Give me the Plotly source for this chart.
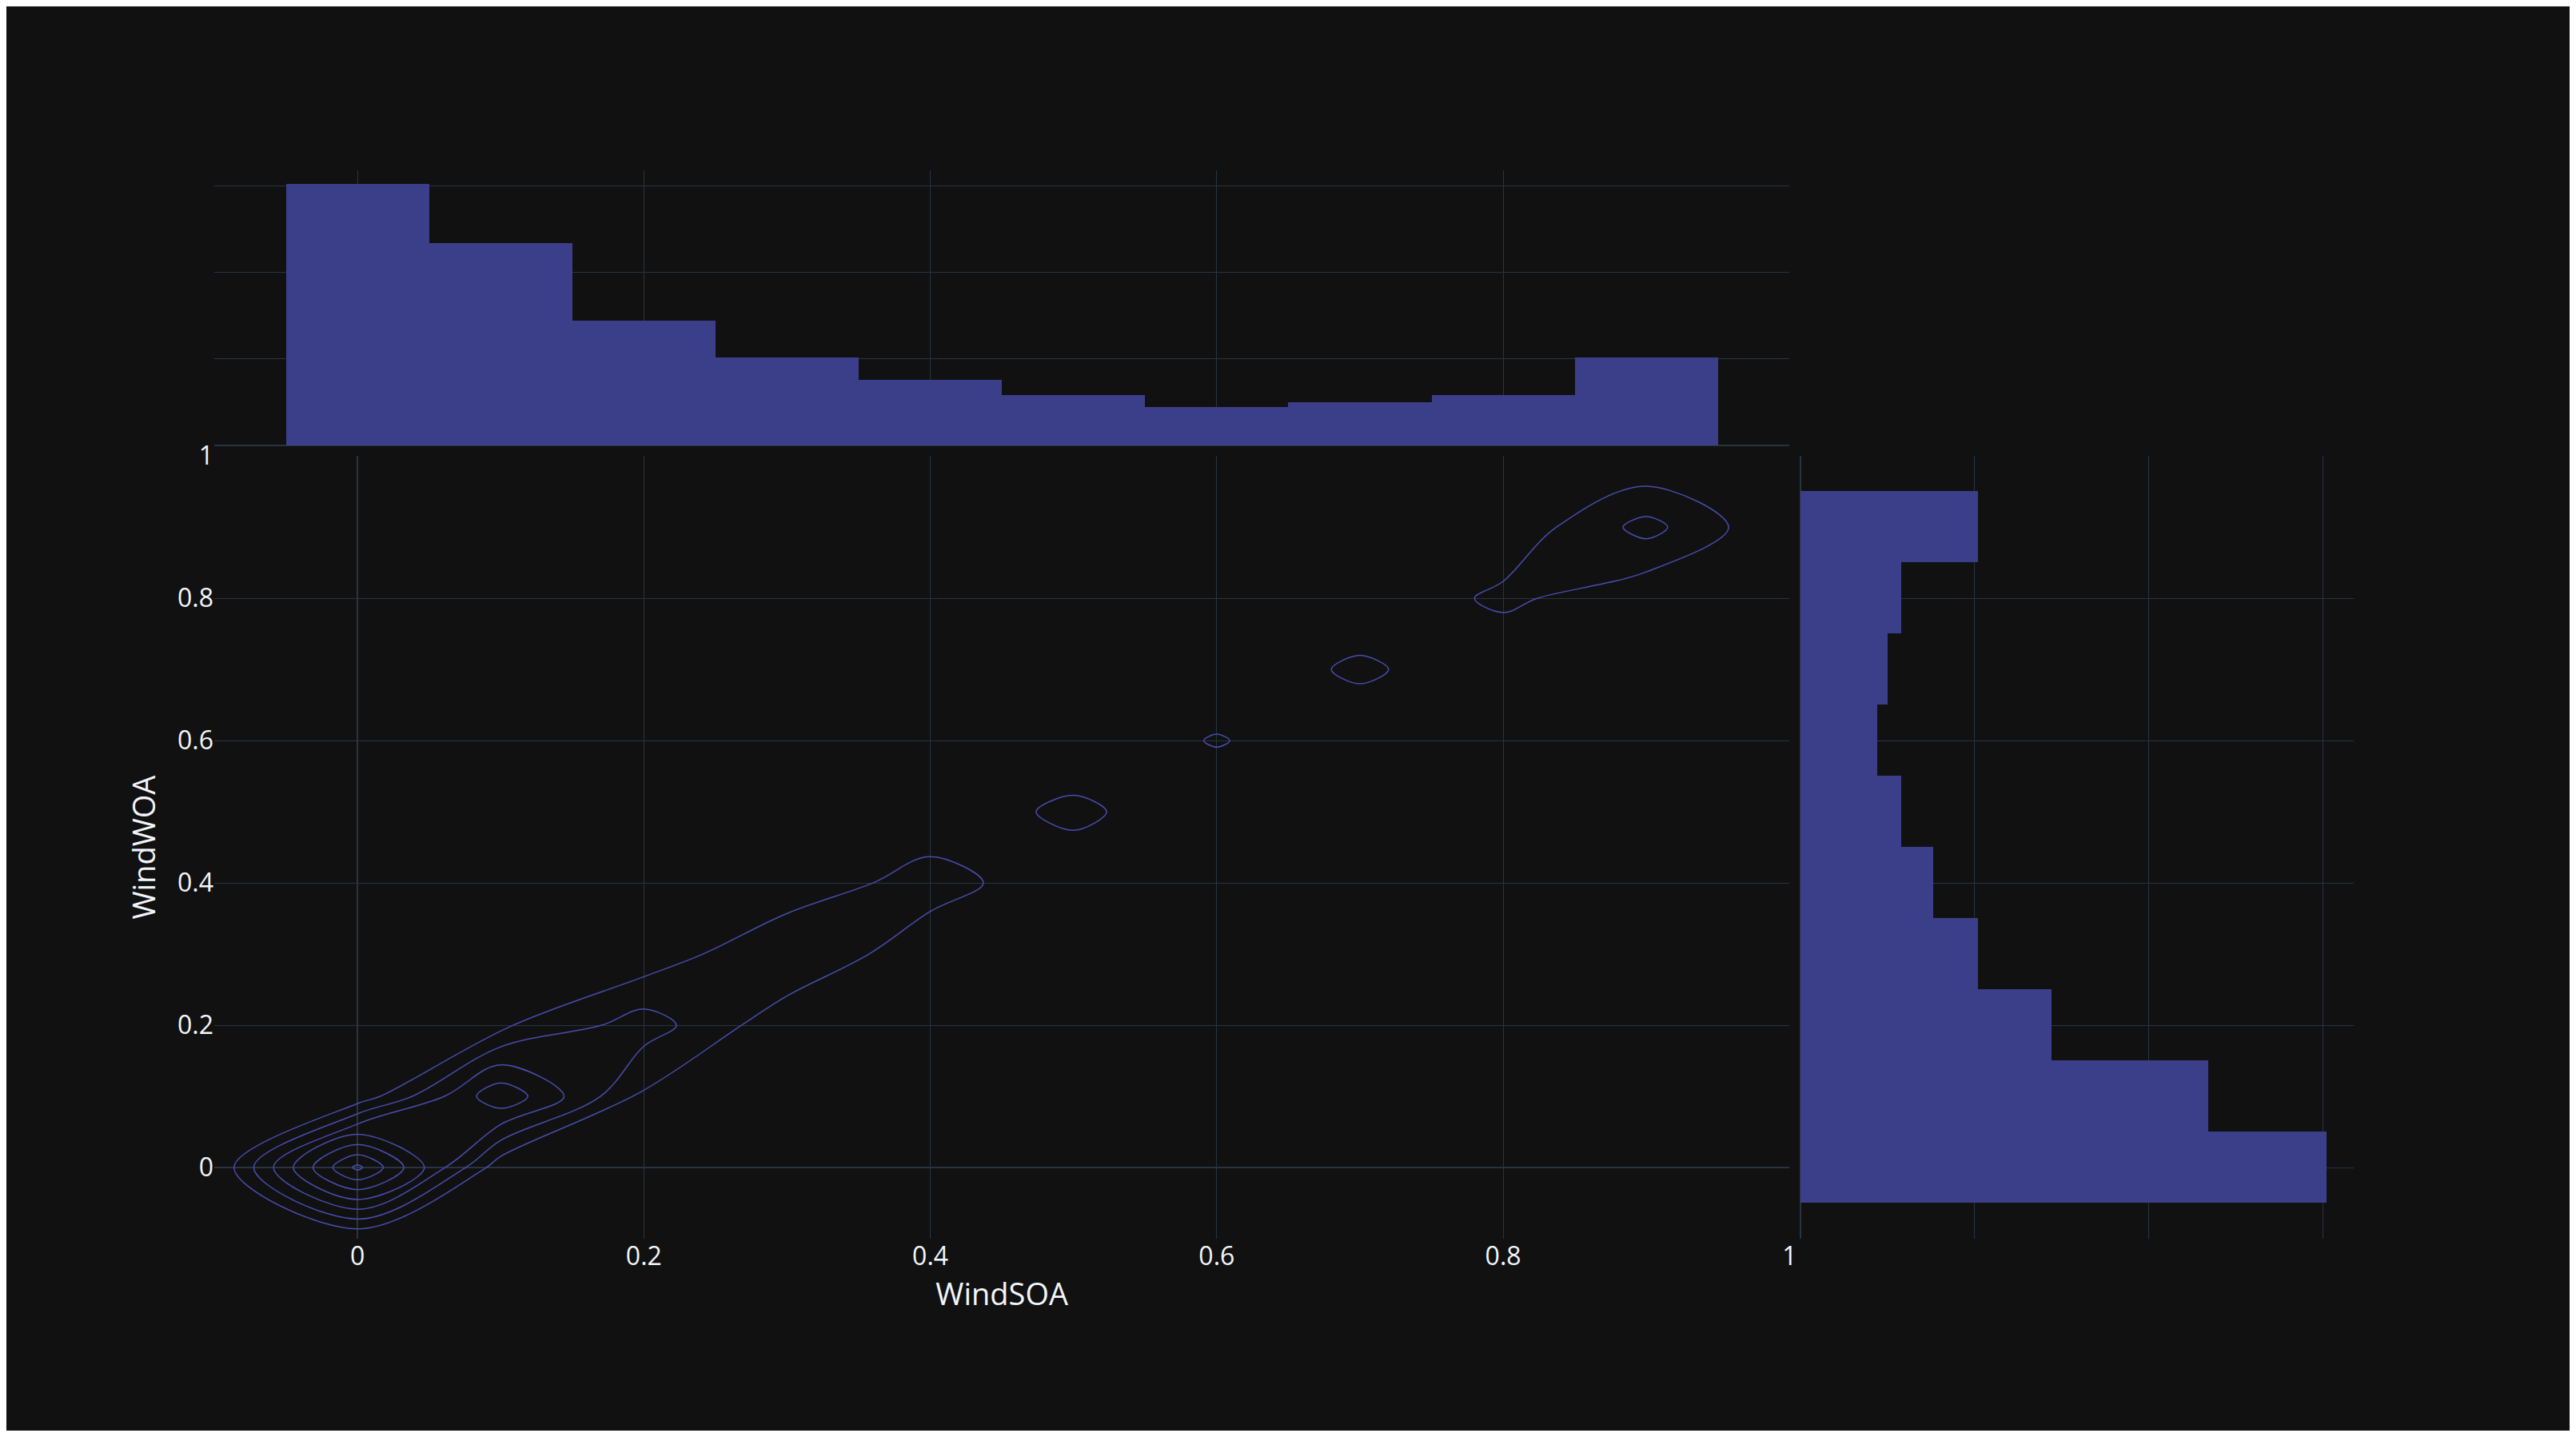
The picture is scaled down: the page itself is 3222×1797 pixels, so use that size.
import numpy as np
import pandas as pd
import plotly.express as px

soa_vals = [0.0, 0.1, 0.2, 0.3, 0.4, 0.5, 0.6, 0.7, 0.8, 0.9,
            0.0, 0.1, 0.1, 0.2, 0.2, 0.3, 0.3, 0.4, 0.4, 0.5, 0.8, 0.9]
woa_vals = [0.0, 0.1, 0.2, 0.3, 0.4, 0.5, 0.6, 0.7, 0.8, 0.9,
            0.1, 0.0, 0.2, 0.1, 0.3, 0.2, 0.4, 0.3, 0.5, 0.4, 0.9, 0.8]
pair_counts = [145, 95, 50, 40, 30, 26, 22, 25, 25, 47,
               6, 6, 16, 16, 6, 6, 5, 5, 3, 3, 4, 4]

df = pd.DataFrame({
    "WindSOA": np.repeat(soa_vals, pair_counts),
    "WindWOA": np.repeat(woa_vals, pair_counts),
})

fig = px.density_contour(df, x="WindSOA", y="WindWOA",
                         marginal_x="histogram", marginal_y="histogram",
                         template="plotly_dark")
fig.update_traces(selector=dict(type="histogram2dcontour"),
                  xbins=dict(start=-0.15, end=1.05, size=0.1),
                  ybins=dict(start=-0.15, end=1.05, size=0.1),
                  autobinx=False, autobiny=False, ncontours=14,
                  line=dict(color="#484dae", width=1.5))
fig.update_traces(selector=dict(type="histogram"), opacity=1,
                  marker=dict(color="#3b3e88", opacity=1, line_width=0))
fig.update_traces(selector=dict(type="histogram"), nbinsx=10, nbinsy=10)
fig.update_xaxes(range=[-0.1, 1], row=1, col=1)
fig.update_yaxes(range=[-0.1, 1], row=1, col=1)
fig.update_yaxes(nticks=5, row=2, col=1)
fig.update_xaxes(nticks=5, row=1, col=2)
fig.update_layout(font=dict(size=32), margin=dict(l=260, r=270, t=205, b=240))
fig.write_html("out.html")
